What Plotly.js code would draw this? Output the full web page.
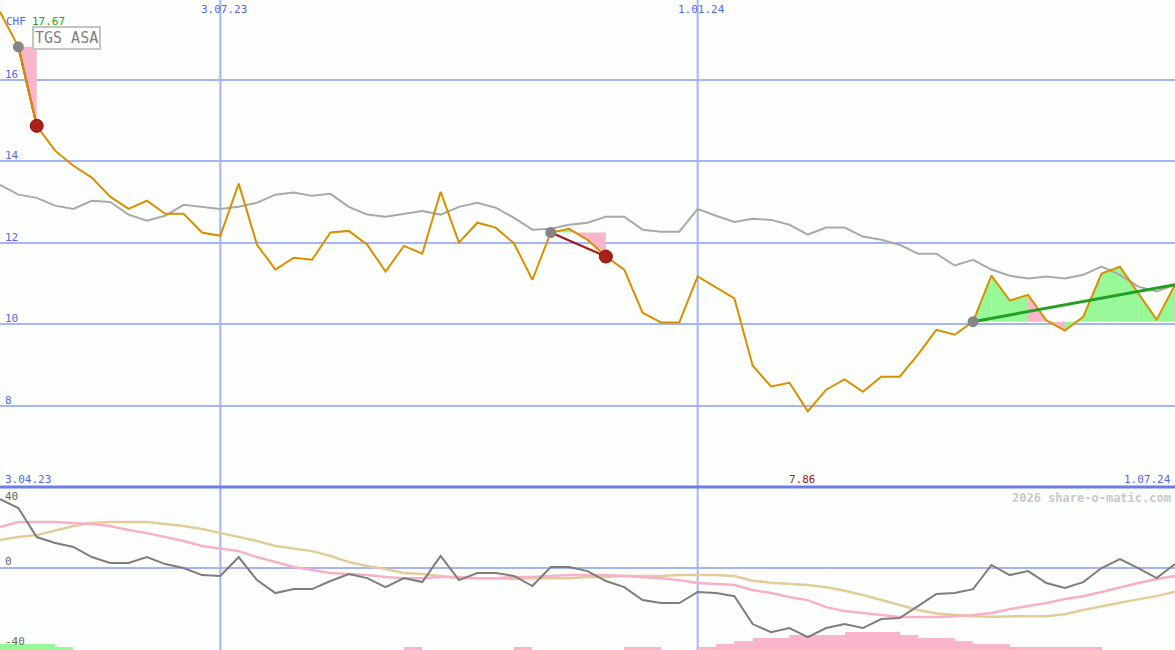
<!DOCTYPE html>
<html>
<head>
<meta charset="utf-8">
<script src="https://cdn.plot.ly/plotly-3.0.1.min.js"></script>
<style>
  html, body { margin: 0; padding: 0; background: #fcfefc; }
  #chart { width: 1175px; height: 650px; }
</style>
</head>
<body>
<div id="chart"></div>
<script>
// ---------------- DATA ----------------
const stockName = 'TGS ASA';
const currency = 'CHF';
const watermark = '2026 share-o-matic.com';

const dates = [
  '2023-04-03','2023-04-17','2023-04-24','2023-05-01','2023-05-08','2023-05-15','2023-05-22','2023-05-29',
  '2023-06-05','2023-06-12','2023-06-19','2023-06-26','2023-07-03','2023-07-10','2023-07-17','2023-07-24',
  '2023-07-31','2023-08-07','2023-08-14','2023-08-21','2023-08-28','2023-09-04','2023-09-11','2023-09-18',
  '2023-09-25','2023-10-02','2023-10-09','2023-10-16','2023-10-23','2023-10-30','2023-11-06','2023-11-13',
  '2023-11-20','2023-11-27','2023-12-04','2023-12-11','2023-12-18','2023-12-25','2024-01-01','2024-01-08',
  '2024-01-15','2024-01-22','2024-01-29','2024-02-05','2024-02-12','2024-02-19','2024-02-26','2024-03-04',
  '2024-03-11','2024-03-18','2024-03-25','2024-04-01','2024-04-08','2024-04-15','2024-04-22','2024-04-29',
  '2024-05-06','2024-05-13','2024-05-20','2024-05-27','2024-06-03','2024-06-10','2024-06-17','2024-06-24',
  '2024-07-01'
];

// share price (orange)
const price = [
  17.67,16.81,14.87,14.26,13.89,13.60,13.13,12.83,13.03,12.71,12.71,12.25,12.17,13.45,11.95,11.34,
  11.63,11.58,12.25,12.29,11.95,11.29,11.92,11.73,13.25,12.00,12.49,12.37,11.98,11.09,12.25,12.34,
  12.07,11.66,11.34,10.28,10.04,10.04,11.17,10.90,10.63,8.98,8.47,8.56,7.86,8.39,8.64,8.34,
  8.71,8.71,9.25,9.86,9.74,10.06,11.19,10.58,10.72,10.09,9.84,10.18,11.24,11.41,10.75,10.11,
  10.97
];

// benchmark index, scaled (grey)
const benchmark = [
  13.42,13.18,13.10,12.91,12.83,13.03,13.00,12.69,12.54,12.66,12.93,12.88,12.83,12.88,12.98,13.18,
  13.23,13.15,13.20,12.88,12.69,12.64,12.71,12.78,12.69,12.88,12.98,12.86,12.61,12.32,12.34,12.44,
  12.49,12.64,12.64,12.32,12.27,12.27,12.83,12.66,12.51,12.59,12.56,12.44,12.20,12.37,12.37,12.15,
  12.07,11.95,11.73,11.73,11.44,11.58,11.34,11.19,11.12,11.17,11.12,11.21,11.41,11.21,10.92,10.80,
  10.97
];

// lower panel: momentum (dark grey), fast average (pink), slow average (tan)
const momentum = [
  38.3,33.3,17.2,13.9,11.7,6.1,2.8,2.8,6.1,2.2,0.0,-3.9,-4.4,6.1,-6.7,-13.9,
  -11.7,-11.7,-7.2,-3.3,-5.6,-10.6,-5.6,-7.8,6.7,-6.7,-2.8,-2.8,-4.4,-10.0,0.6,0.6,
  -1.7,-7.2,-10.6,-17.8,-19.4,-19.4,-13.3,-13.9,-15.6,-31.1,-35.6,-33.3,-38.3,-33.3,-31.1,-33.3,
  -28.3,-27.8,-21.1,-14.4,-13.9,-11.7,1.7,-3.9,-1.7,-8.3,-11.1,-7.8,0.0,5.0,0.0,-5.6,
  2.2
];
const fastAvg = [
  22.8,25.6,25.6,25.6,25.0,24.4,23.3,21.1,19.4,17.2,15.0,12.2,10.6,9.4,6.1,3.3,
  0.6,-1.1,-2.8,-3.3,-3.9,-5.0,-5.6,-5.6,-5.0,-5.0,-5.6,-5.6,-5.0,-5.0,-4.4,-3.9,
  -3.9,-3.9,-4.4,-5.0,-5.6,-6.7,-8.3,-8.9,-9.4,-12.2,-13.9,-16.1,-17.8,-21.7,-23.9,-25.0,
  -26.1,-27.2,-27.2,-27.2,-26.7,-26.1,-25.0,-22.8,-21.1,-19.4,-17.2,-15.6,-13.3,-10.6,-8.3,-6.1,
  -4.4
];
const slowAvg = [
  15.6,17.2,18.3,20.6,23.3,25.0,25.6,25.6,25.6,24.4,23.3,21.7,19.4,17.2,15.0,12.2,
  10.6,9.4,6.7,3.3,1.1,-0.6,-2.8,-3.3,-4.4,-5.6,-5.6,-5.6,-6.1,-5.6,-5.6,-5.6,
  -5.0,-5.0,-4.4,-4.4,-4.4,-3.9,-3.9,-3.9,-4.4,-7.0,-8.1,-8.9,-9.4,-10.7,-12.6,-15.0,
  -17.8,-20.6,-23.3,-25.2,-26.1,-26.7,-27.0,-26.7,-26.7,-26.7,-25.6,-23.3,-21.1,-19.3,-17.4,-15.6,
  -13.1
];
// weekly signal histogram (positive = green, negative = pink), in steps
const histogram = [
  2,2,2,1,0,0,0,0,0,0,0,0,0,0,0,0,
  0,0,0,0,0,0,-1,0,0,0,0,0,-1,0,0,0,
  0,0,-1,-1,0,0,-1,-2,-3,-4,-4,-5,-5,-5,-6,-6,
  -6,-5,-4,-4,-3,-2,-2,-1,-1,-1,-1,-1,0,0,0,0,
  0
];

// trade signals: start index, end index, open?, weekly segment state
const signalStart = [1, 30, 53];
const signalEnd   = [2, 33, 64];
const signalOpen  = [false, false, true];
const signal1Segments = ['down'];
const signal2Segments = ['up', 'down', 'down'];
const signal3Segments = ['up','up','up','down','down','up','up','up','up','up','up'];
const signalSegments = [signal1Segments, signal2Segments, signal3Segments];

const priceTicks = [8, 10, 12, 14, 16];
const lowerTicks = [40, 0, -40];
const gridDates = ['2023-07-03', '2024-01-01'];

// ---------------- STYLE ----------------
const W = 1175, H = 650;
const splitPx = 487;                       // boundary between panels
const splitFrac = 1 - splitPx / H;
const gridColor = '#a4b4f4';
const labelBlue = '#5566ee';
const mono = 'DejaVu Sans Mono, monospace';
const GREEN_FILL = '#98f898';
const PINK_FILL = '#f9b6ca';
const lowerRange = [-45.5, 45];
const lowerPxPerUnit = (H * splitFrac) / (lowerRange[1] - lowerRange[0]);
const pxPerHistStep = 3;

const xi = dates.map((_, i) => i);
function fmtDate(s) {
  const [y, m, d] = s.split('-');
  return parseInt(d, 10) + '.' + m + '.' + y.slice(2);
}

const traces = [];

// signal fills (between the entry level and the price line)
signalStart.forEach((s, k) => {
  const level = price[s];
  signalSegments[k].forEach((state, j) => {
    const a = s + j, b = a + 1;
    traces.push({
      x: [a, a, b, b, a], y: [level, price[a], price[b], level, level],
      xaxis: 'x', yaxis: 'y', mode: 'lines', line: {width: 0},
      fill: 'toself', fillcolor: state === 'up' ? GREEN_FILL : PINK_FILL,
      hoverinfo: 'skip', showlegend: false
    });
  });
});

// benchmark
traces.push({x: xi, y: benchmark, xaxis: 'x', yaxis: 'y', mode: 'lines',
  line: {color: '#a9a9a9', width: 2}, hoverinfo: 'skip', showlegend: false});

// closed signal lines (below the price line)
signalStart.forEach((s, k) => {
  if (signalOpen[k]) return;
  const e = signalEnd[k];
  traces.push({
    x: [s, e], y: [price[s], price[e]], xaxis: 'x', yaxis: 'y', mode: 'lines',
    line: {color: '#a01818', width: 2}, hoverinfo: 'skip', showlegend: false
  });
});

// price
traces.push({x: xi, y: price, xaxis: 'x', yaxis: 'y', mode: 'lines',
  line: {color: '#d88f00', width: 2}, showlegend: false});

// open signal line
signalStart.forEach((s, k) => {
  if (!signalOpen[k]) return;
  const e = signalEnd[k];
  traces.push({
    x: [s, e], y: [price[s], price[e]], xaxis: 'x', yaxis: 'y', mode: 'lines',
    line: {color: '#22a022', width: 3}, hoverinfo: 'skip', showlegend: false
  });
});

// markers
signalStart.forEach((s, k) => {
  traces.push({x: [s], y: [price[s]], xaxis: 'x', yaxis: 'y', mode: 'markers',
    marker: {color: '#858585', size: 11}, hoverinfo: 'skip', showlegend: false});
  if (!signalOpen[k]) {
    const e = signalEnd[k];
    traces.push({x: [e], y: [price[e]], xaxis: 'x', yaxis: 'y', mode: 'markers',
      marker: {color: '#a82018', size: 13, line: {color: '#8a1010', width: 1}},
      hoverinfo: 'skip', showlegend: false});
  }
});

// lower panel histogram (from the bottom)
const histUnits = pxPerHistStep / lowerPxPerUnit;
traces.push({
  type: 'bar', x: xi, y: histogram.map(v => Math.abs(v) * histUnits),
  base: lowerRange[0], offset: 0, width: 1, xaxis: 'x', yaxis: 'y2',
  marker: {color: histogram.map(v => v > 0 ? GREEN_FILL : PINK_FILL), line: {width: 0}},
  hoverinfo: 'skip', showlegend: false
});
traces.push({x: xi, y: slowAvg, xaxis: 'x', yaxis: 'y2', mode: 'lines',
  line: {color: '#e4cc9a', width: 2.5}, hoverinfo: 'skip', showlegend: false});
traces.push({x: xi, y: fastAvg, xaxis: 'x', yaxis: 'y2', mode: 'lines',
  line: {color: '#f8b0c8', width: 2.5}, hoverinfo: 'skip', showlegend: false});
traces.push({x: xi, y: momentum, xaxis: 'x', yaxis: 'y2', mode: 'lines',
  line: {color: '#7d7d7d', width: 2}, hoverinfo: 'skip', showlegend: false});

// ---------------- ANNOTATIONS ----------------
const annotations = [];
const labelFont = (c, s) => ({family: mono, size: s || 11, color: c});

priceTicks.forEach(t => annotations.push({
  text: String(t), x: 0, xref: 'paper', y: t, yref: 'y', xanchor: 'left', yanchor: 'bottom',
  xshift: 3, yshift: -3, showarrow: false, font: labelFont(labelBlue)
}));
lowerTicks.forEach(t => annotations.push({
  text: String(t), x: 0, xref: 'paper', y: t, yref: 'y2', xanchor: 'left',
  yanchor: t === 0 ? 'bottom' : 'middle', xshift: 3, yshift: t === 0 ? -2 : (t < 0 ? -1 : 0),
  showarrow: false, font: labelFont('#666666')
}));
gridDates.forEach(d => annotations.push({
  text: fmtDate(d), x: dates.indexOf(d), xref: 'x', y: 1, yref: 'paper',
  xanchor: 'center', yanchor: 'top', xshift: 4, yshift: -1, showarrow: false, font: labelFont(labelBlue)
}));
annotations.push({text: fmtDate(dates[0]), x: 0, xref: 'paper', y: splitFrac, yref: 'paper',
  xanchor: 'left', yanchor: 'bottom', xshift: 3, yshift: -1, showarrow: false, font: labelFont(labelBlue)});
annotations.push({text: fmtDate(dates[dates.length - 1]), x: 1, xref: 'paper', y: splitFrac, yref: 'paper',
  xanchor: 'right', yanchor: 'bottom', xshift: -2, yshift: -1, showarrow: false, font: labelFont(labelBlue)});
const minVal = Math.min(...price), maxVal = Math.max(...price);
annotations.push({text: minVal.toFixed(2), x: price.indexOf(minVal), xref: 'x', y: splitFrac, yref: 'paper',
  xanchor: 'center', yanchor: 'bottom', xshift: -5, yshift: -1, showarrow: false, font: labelFont('#a01818')});
annotations.push({text: currency, x: 0, xref: 'paper', y: 1, yref: 'paper', xanchor: 'left', yanchor: 'top',
  xshift: 4, yshift: -13, showarrow: false, font: labelFont(labelBlue)});
annotations.push({text: maxVal.toFixed(2), x: 0, xref: 'paper', y: 1, yref: 'paper', xanchor: 'left', yanchor: 'top',
  xshift: 30, yshift: -13, showarrow: false, font: labelFont('#22a022')});
annotations.push({text: stockName, x: 0, xref: 'paper', y: 1, yref: 'paper', xanchor: 'left', yanchor: 'top',
  xshift: 32, yshift: -26, showarrow: false, font: {family: mono, size: 15, color: '#808080'},
  bgcolor: '#ffffff', bordercolor: '#c4c4c4', borderwidth: 2, borderpad: 1});
annotations.push({text: '<b>' + watermark + '</b>', x: 1, xref: 'paper', y: splitFrac, yref: 'paper',
  xanchor: 'right', yanchor: 'top', xshift: -2, yshift: -2, showarrow: false, font: labelFont('#c8c8c8', 12)});

// ---------------- SHAPES ----------------
const shapes = gridDates.map(d => ({
  type: 'line', xref: 'x', yref: 'paper', x0: dates.indexOf(d), x1: dates.indexOf(d), y0: 0, y1: 1,
  line: {color: gridColor, width: 2}, layer: 'below'
}));
shapes.push({type: 'line', xref: 'paper', yref: 'paper', x0: 0, x1: 1, y0: splitFrac, y1: splitFrac,
  line: {color: '#6c7ce8', width: 3}, layer: 'above'});

const layout = {
  width: W, height: H,
  margin: {l: 0, r: 0, t: 0, b: 0, pad: 0},
  paper_bgcolor: '#fcfefc', plot_bgcolor: '#fcfefc',
  showlegend: false, hovermode: false,
  xaxis: {range: [0, dates.length - 1], showgrid: false, zeroline: false, showticklabels: false,
    ticks: '', showline: false, fixedrange: true},
  yaxis: {domain: [splitFrac, 1], range: [6.0, 17.96], tickmode: 'array', tickvals: priceTicks,
    showticklabels: false, ticks: '', showgrid: true, gridcolor: gridColor, gridwidth: 2,
    zeroline: false, showline: false, fixedrange: true},
  yaxis2: {domain: [0, splitFrac], range: lowerRange, tickmode: 'array', tickvals: [0],
    showticklabels: false, ticks: '', showgrid: true, gridcolor: gridColor, gridwidth: 2,
    zeroline: false, showline: false, fixedrange: true, anchor: 'x'},
  annotations: annotations,
  shapes: shapes,
  bargap: 0
};

Plotly.newPlot('chart', traces, layout, {staticPlot: true, displayModeBar: false});
</script>
</body>
</html>
